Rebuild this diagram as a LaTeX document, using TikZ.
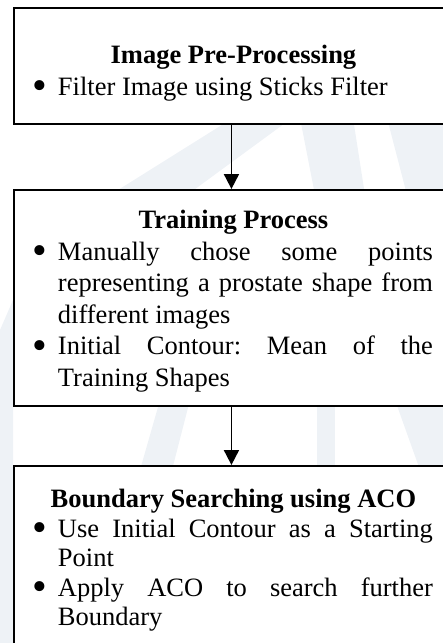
\documentclass[tikz,border=0pt]{standalone}
\usepackage{fontspec}
\setmainfont{Liberation Serif}
\usetikzlibrary{arrows.meta}
\definecolor{wm}{RGB}{238,242,246}
\newcommand\mybullet{\makebox[24pt][l]{\hspace{-1.5pt}\raisebox{-4.5pt}{\fontsize{42}{42}\selectfont\textbullet}}}
\newcommand\myitem[1]{\par\noindent\hangindent=24pt\hangafter=1\mybullet#1\par}
\newcommand\myhead[2][33pt]{{\centering\bfseries\rule{0pt}{#1}#2\par}}
\hbadness=10000
\tikzset{
  box/.style={draw=black, line width=1.9pt, fill=white, anchor=north west,
    text width=399pt, inner xsep=20pt, inner ysep=0pt, align=justify,
    font=\fontsize{26.5}{31.5}\selectfont\frenchspacing},
  arr/.style={line width=1.9pt, -{Triangle[width=15pt,length=15pt]}},
  wmark/.style={fill=wm, draw=none}
}
\begin{document}
\begin{tikzpicture}[x=1pt,y=-1pt]
\useasboundingbox (0,0) rectangle (443,643);
\clip (0,0) rectangle (443,643);
% faint watermark
\fill[wmark] (233,118) -- (292,118) -- (187,195) -- (110,195) -- cycle;
\fill[wmark] (300,118) -- (353,118) -- (365,195) -- (315,195) -- cycle;
\fill[wmark] (387,118) -- (443,118) -- (443,195) -- (407,195) -- cycle;
\fill[wmark] (160,400) -- (190,400) -- (172,470) -- (140,470) -- cycle;
\fill[wmark] (317,400) -- (335,400) -- (335,470) -- (317,470) -- cycle;
\fill[wmark] (395,400) -- (443,400) -- (443,470) -- (420,470) -- cycle;
\fill[wmark] (0,330) -- (13,300) -- (13,643) -- (0,643) -- cycle;
% boxes
\node[box, minimum height=116pt] (b1) at (13,7) {%
\myhead{Image Pre-Processing}
\myitem{Filter Image using Sticks Filter}};
\node[box, minimum height=216pt] (b2) at (13,189) {%
\myhead[25pt]{Training Process}
\myitem{Manually chose some points\linebreak representing a prostate shape from\linebreak different images}
\myitem{Initial Contour: Mean of the\linebreak Training Shapes}};
\node[box, minimum height=186pt, font=\fontsize{26.5}{29.5}\selectfont\frenchspacing] (b3) at (13,465) {%
\myhead[21pt]{Boundary Searching using ACO}
\myitem{Use Initial Contour as a Starting\linebreak Point}
\myitem{Apply ACO to search further\linebreak Boundary}};
% connectors
\draw[arr] ([xshift=-2pt]b1.south) -- ([xshift=-2pt]b2.north);
\draw[arr] ([xshift=-2pt]b2.south) -- ([xshift=-2pt]b3.north);
\end{tikzpicture}
\end{document}
